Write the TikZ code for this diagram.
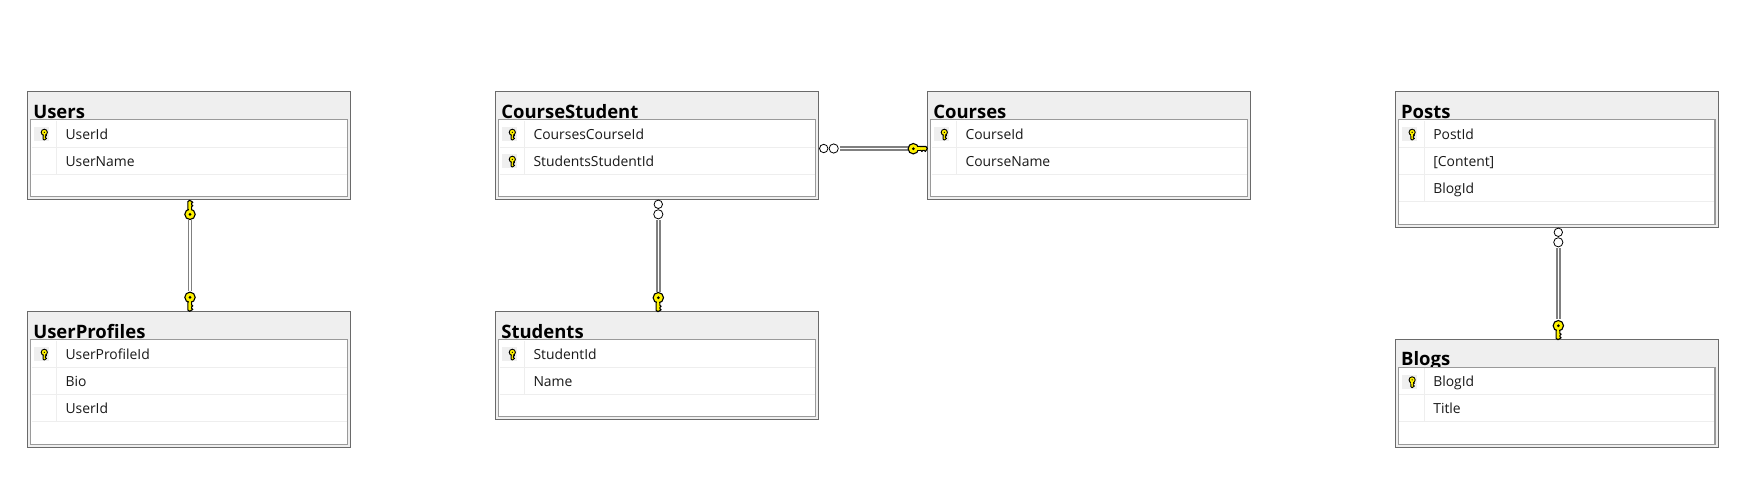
\documentclass[tikz,border=0pt]{standalone}
\usepackage{fontspec}
\setmainfont{Open Sans}
\definecolor{hdr}{HTML}{EFEFEF}
\definecolor{outerc}{HTML}{6A6A6A}
\definecolor{innerc}{HTML}{9A9A9A}
\definecolor{sepc}{HTML}{EEEEEE}
\definecolor{keyy}{HTML}{FFF200}
\tikzset{
  x=1pt,y=-1pt,
  tablebox/.style={draw=outerc,line width=1.1pt,fill=hdr,rectangle,inner sep=0pt,outer sep=0pt,anchor=north west},
  innerbox/.style={draw=innerc,line width=1.1pt,fill=white,rectangle,inner sep=0pt,outer sep=0pt,anchor=north west},
  titletext/.style={anchor=base west,inner sep=0pt,font=\fontsize{18.5}{18.5}\selectfont\bfseries,text=black},
  rowtext/.style={anchor=base west,inner sep=0pt,font=\fontsize{13.9}{14}\selectfont,text=black!90},
  sepline/.style={draw=sepc,line width=1pt},
  iconbg/.style={fill=hdr,draw=none,rectangle,inner sep=0pt,outer sep=0pt,minimum width=15pt,minimum height=13.7pt},
  relline/.style={draw=black!50,line width=1.7pt,double=white,double distance=1.3pt},
  pics/fkey/.style={code={
    \path[fill=keyy,draw=black,line width=1.1pt,line join=round]
      (4,-2.2) -- (12.6,-2.2) -- (14,-0.4) -- (13,1.4) -- (12,2.8) -- (11,1.6) -- (9.6,1.6) -- (8.6,2.8) -- (7.6,1.6) -- (4,1.6) -- cycle;
    \path[fill=keyy,draw=black,line width=1.1pt] (0,0) circle[radius=5.2pt];
    \path[fill=keyy] (3,-1.5) rectangle (6.2,0.9);
    \path[fill=black] (0,0) circle[radius=1.5pt];
  }},
  pics/smallkey/.style={code={
    \path[fill=keyy,draw=black,line width=.9pt,line join=round]
      (1.6,-1.2) -- (6.8,-1.2) -- (7.8,0) -- (6.9,1.2) -- (6.1,2.3) -- (5.2,1.1) -- (4.1,1.1) -- (3.3,2.3) -- (2.4,1.1) -- (1.6,1.1) -- cycle;
    \path[fill=keyy,draw=black,line width=.9pt] (0,0) circle[radius=3.1pt];
    \path[fill=keyy] (1,-.7) rectangle (3.6,.6);
    \path[fill=black] (0,0) circle[radius=.7pt];
  }},
  pics/manyend/.style={code={
    \path[fill=white,draw=black,line width=.8pt] (0,0) circle[radius=4.2pt];
    \path[fill=white,draw=black,line width=.8pt] (10,0) circle[radius=4.6pt];
  }}
}
% #1 name, #2 x, #3 y, #4 height, #5 title, #6 number of rows, #7 rows as keyflag/text
\newcommand{\dbtable}[7]{
  \node[tablebox,minimum width=323.2pt,minimum height=#4pt] (#1) at (#2,#3) {};
  \node[titletext] (#1-title) at (#2+5.6,#3+26.4) {#5};
  \node[innerbox,minimum width=316.6pt,minimum height=#4pt-30.6pt] (#1-inner) at (#2+3.1,#3+28) {};
  \foreach \fl/\tx [count=\i] in {#7}{
    \draw[sepline] (#2+4,#3+28.6+27*\i) -- (#2+319,#3+28.6+27*\i);
    \ifnum\fl=1
      \node[iconbg] (#1-bg\i) at (#2+14,#3+42.5+27*\i-27) {};
      \pic[rotate=-90,yscale=-1] at (#2+16.8,#3+40.6+27*\i-27) {smallkey};
    \fi
    \node[rowtext] (#1-row\i) at (#2+37.8,#3+47.4+27*\i-27) {\tx};
  }
  \draw[sepline] (#2+28.8,#3+29) -- (#2+28.8,#3+28.6+27*#6);
}
\begin{document}
\begin{tikzpicture}
\useasboundingbox (0,0) rectangle (1753,496);
\fill[white] (0,0) rectangle (1753,496);
\dbtable{users}{27.5}{91.7}{107.6}{Users}{2}{1/UserId,0/UserName}
\dbtable{profiles}{27.5}{311.7}{135.6}{UserProfiles}{3}{1/UserProfileId,0/Bio,0/UserId}
\dbtable{coursestudent}{495.5}{91.7}{107.6}{CourseStudent}{2}{1/CoursesCourseId,1/StudentsStudentId}
\dbtable{students}{495.5}{311.7}{107.6}{Students}{2}{1/StudentId,0/Name}
\dbtable{courses}{927.5}{91.7}{107.6}{Courses}{2}{1/CourseId,0/CourseName}
\dbtable{posts}{1395.3}{91.7}{135.6}{Posts}{3}{1/PostId,0/[Content],0/BlogId}
\dbtable{blogs}{1395.3}{339.3}{108}{Blogs}{2}{1/BlogId,0/Title}

\draw[relline,shorten <=21pt,shorten >=21pt] ([xshift=1pt]users.south) -- ([xshift=1pt]profiles.north);
\draw[relline,shorten <=21pt,shorten >=20pt] ([xshift=1.2pt]coursestudent.south) -- ([xshift=1.2pt]students.north);
\draw[relline,shorten <=21pt,shorten >=20pt] ([xshift=1.3pt]posts.south) -- ([xshift=1.3pt]blogs.north);
\draw[relline,shorten <=21pt,shorten >=19pt] ([yshift=-3pt]coursestudent.east) -- ([yshift=-3pt]courses.west);

\pic[rotate=90] at (190,214.3) {fkey};
\pic[rotate=-90,yscale=-1] at (190,297.3) {fkey};
\pic[rotate=-90,yscale=-1] at (658.3,297.7) {fkey};
\pic[rotate=-90,yscale=-1] at (1558.3,325.7) {fkey};
\pic at (913.3,148.7) {fkey};

\pic[rotate=-90,yscale=-1] at (658.3,204.3) {manyend};
\pic[rotate=-90,yscale=-1] at (1558.3,232.3) {manyend};
\pic at (823.7,148.5) {manyend};
\end{tikzpicture}
\end{document}
